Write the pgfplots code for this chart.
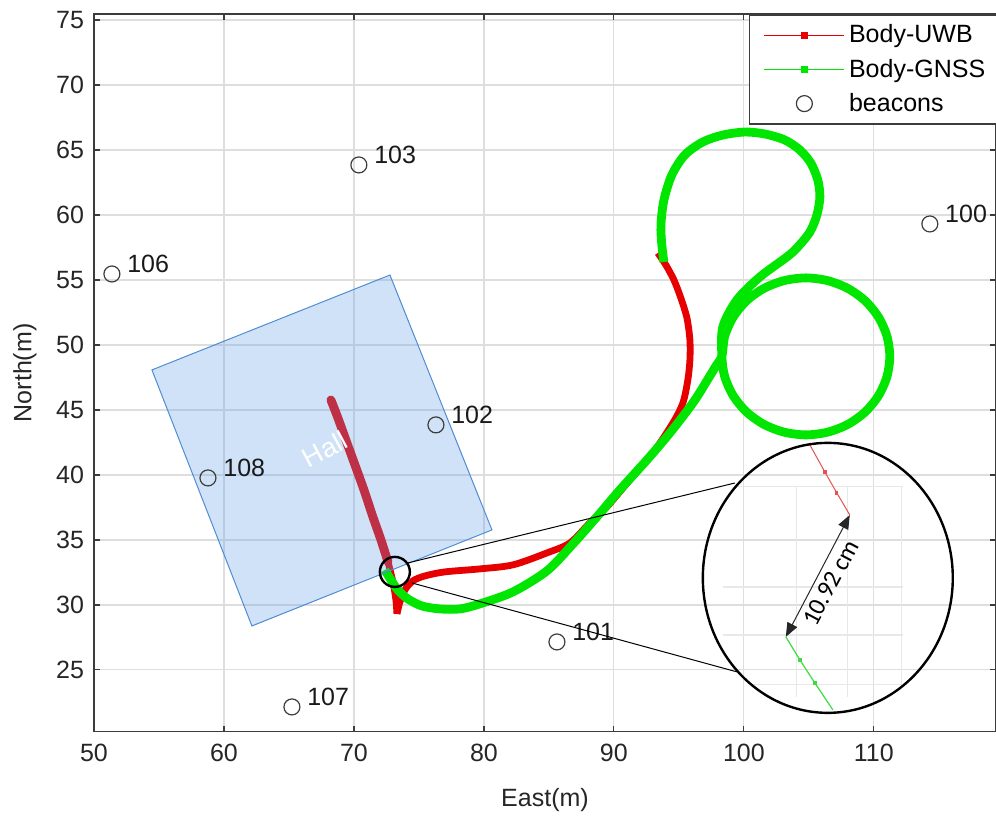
\documentclass[border=0pt]{standalone}
\usepackage{fontspec}
\setmainfont{Liberation Sans}
\newfontfamily\calibri{Carlito}
\usepackage{pgfplots}
\pgfplotsset{compat=1.18}
\usetikzlibrary{arrows.meta}
\definecolor{uwb}{RGB}{230,0,0}
\definecolor{gnss}{RGB}{0,230,0}
\definecolor{hallblue}{RGB}{100,160,230}
\definecolor{halledge}{RGB}{80,140,210}
\definecolor{axgray}{RGB}{60,60,60}
\definecolor{gridgray}{RGB}{222,222,222}
\definecolor{insetgrid}{RGB}{232,232,232}
\begin{document}
\begin{tikzpicture}
\begin{axis}[
  x=6.5pt, y=6.5pt,
  xmin=50, xmax=119.4, ymin=20.25, ymax=75.46,
  xtick={50,60,...,110}, ytick={25,30,...,75},
  tick align=inside, tick pos=both, major tick length=3pt,
  grid=major, major grid style={draw=gridgray, line width=0.6pt},
  axis line style={draw=axgray, line width=0.8pt},
  every tick/.style={draw=axgray, line width=0.6pt},
  /pgf/number format/assume math mode=true,
  tick label style={font=\fontsize{12.5}{15}\selectfont, text=black!85},
  yticklabel style={xshift=-1.5pt},
  xticklabel style={yshift=-2.5pt},
  xlabel={East(m)}, ylabel={North(m)},
  label style={font=\fontsize{12.5}{15}\selectfont, text=black!85},
  xlabel style={at={(axis description cs:0.5,-0.0947)}, anchor=center},
  ylabel style={at={(axis description cs:-0.0765,0.5)}, anchor=center},
  legend cell align=left,
  legend image code/.code={\draw[mark repeat=2,mark phase=2,#1] plot coordinates {(0pt,0pt) (20pt,0pt) (40pt,0pt)};},
  legend style={at={(1,1)}, anchor=north east, xshift=4pt, draw=axgray, line width=0.8pt, fill=white,
    font=\fontsize{12.5}{15}\selectfont, inner xsep=7pt, inner ysep=3pt, row sep=2.5pt,
    /tikz/every even column/.append style={column sep=6pt}},
]
\coordinate (bl) at (axis cs:42.77,13.62);
\coordinate (tr) at (axis cs:119.4,76.54);

% Body-UWB trajectory (hall part thicker)
\addplot[forget plot, uwb, line width=4.4pt, line join=round, line cap=round, smooth] coordinates {
(68.23,45.77)(68.77,44.38)(69.38,42.69)(70.08,40.77)(70.77,38.85)(71.46,36.77)(72.08,35.0)(72.62,33.31)};
\addplot[forget plot, uwb, line width=3.4pt, line join=round, smooth] coordinates {
(72.08,35.0)(72.62,33.31)(73.0,31.77)(73.23,30.38)(73.31,29.31)};
\addplot[forget plot, uwb, line width=3.4pt, line join=round, smooth] coordinates {
(73.31,29.31)(73.54,30.23)(73.92,31.15)(74.54,31.85)
(75.46,32.23)(77.0,32.54)(79.69,32.77)(82.23,33.08)(84.85,34.0)(86.62,34.77)(88.15,36.31)(89.46,37.54)
(91.23,39.62)(93.0,41.69)(94.54,44.0)(95.31,45.54)(95.69,47.31)(95.85,48.85)(95.85,50.38)(95.62,52.08)
(95.15,53.62)(94.62,55.0)(94.0,56.15)(93.38,57.08)};

% Body-GNSS trajectory
\addplot[forget plot, gnss, line width=4.4pt, line join=round, smooth] coordinates {
(72.38,32.69)(72.85,31.92)(73.38,31.15)(74.15,30.46)(75.23,29.92)(76.62,29.69)(78.15,29.69)(79.69,30.08)
(82.23,31.0)(84.85,32.62)(86.85,34.69)(88.69,36.77)(90.46,38.85)(92.54,41.15)(94.31,43.23)(96.08,45.54)
(97.15,47.23)(97.85,48.38)(98.31,49.15)
(98.53,50.68)(99.18,52.14)(100.20,53.39)(101.54,54.35)(103.10,54.95)(104.77,55.16)(106.44,54.95)(108.0,54.35)
(109.34,53.39)(110.36,52.14)(111.01,50.68)(111.23,49.12)(111.01,47.56)(110.36,46.10)(109.34,44.85)(108.0,43.89)
(106.44,43.29)(104.77,43.08)(103.10,43.29)(101.54,43.89)(100.20,44.85)(99.18,46.10)(98.53,47.56)(98.31,49.12)
(98.38,51.38)(99.46,53.46)(101.23,55.23)(103.31,56.77)(104.08,57.46)(105.08,58.69)(105.62,60.0)(105.85,61.38)
(105.69,62.69)(105.15,64.0)(104.31,65.0)(103.15,65.77)(101.62,66.23)(100.08,66.38)(98.38,66.15)(96.85,65.62)
(95.46,64.62)(94.46,63.08)(93.85,61.15)(93.62,59.23)(93.69,57.69)(93.85,56.38)};

% Hall
\addplot[forget plot, fill=hallblue, fill opacity=0.3, draw=halledge, line width=0.5pt] coordinates {
(54.46,48.08)(72.77,55.38)(80.62,35.77)(62.15,28.38)} -- cycle;
\node[rotate=28, text=white, font=\fontsize{13.5}{15}\selectfont] at (axis cs:67.77,42.0) {Hall};

% beacons
\addplot[forget plot, only marks, mark=o, mark size=4pt, mark options={draw=axgray, line width=0.6pt}] coordinates {
(114.31,59.31)(70.38,63.85)(51.38,55.46)(76.31,43.85)(58.77,39.77)(85.62,27.15)(65.23,22.15)};
\begin{scope}[every node/.style={anchor=west, inner sep=0pt, xshift=7.5pt, yshift=5pt, font=\fontsize{12.5}{15}\selectfont, text=black!90}]
\node at (axis cs:114.31,59.31) {100};
\node at (axis cs:70.38,63.85) {103};
\node at (axis cs:51.38,55.46) {106};
\node at (axis cs:76.31,43.85) {102};
\node at (axis cs:58.77,39.77) {108};
\node at (axis cs:85.62,27.15) {101};
\node at (axis cs:65.23,22.15) {107};
\end{scope}

% magnifier
\draw[black, line width=1.2pt] (axis cs:73.15,32.54) circle [radius=7.5pt];
\draw[black, line width=0.5pt] (axis cs:74.15,33.23) -- (axis cs:99.31,39.38);
\draw[black, line width=0.5pt] (axis cs:74.46,31.69) -- (axis cs:99.46,24.85);
\begin{scope}
\clip (axis cs:106.46,32.08) ellipse [x radius=62.5pt, y radius=67.5pt];
\draw[insetgrid, line width=0.6pt] (axis cs:104.08,39.08) -- (axis cs:104.08,22.92);
\draw[insetgrid, line width=0.6pt] (axis cs:108.0,39.08) -- (axis cs:108.0,22.92);
\draw[insetgrid, line width=0.6pt] (axis cs:112.15,39.08) -- (axis cs:112.15,22.92);
\draw[insetgrid, line width=0.6pt] (axis cs:98.38,39.08) -- (axis cs:112.23,39.08);
\draw[insetgrid, line width=0.6pt] (axis cs:98.38,31.38) -- (axis cs:112.23,31.38);
\draw[insetgrid, line width=0.6pt] (axis cs:98.38,27.69) -- (axis cs:112.23,27.69);
\draw[insetgrid, line width=0.6pt] (axis cs:98.38,23.85) -- (axis cs:112.23,23.85);
\end{scope}
\addplot[forget plot, color={rgb,255:red,230;green,80;blue,80}, line width=0.5pt, mark=square*, mark size=0.6pt, mark indices={2,3}] coordinates {
(105.08,42.31)(106.23,40.23)(107.15,38.62)(108.15,36.92)};
\addplot[forget plot, color={rgb,255:red,60;green,220;blue,60}, line width=0.6pt, mark=square*, mark size=0.6pt, mark indices={2,3}] coordinates {
(103.23,27.54)(104.31,25.77)(105.46,24.0)(106.85,21.92)};
\draw[black, line width=1.2pt] (axis cs:106.46,32.08) ellipse [x radius=62.5pt, y radius=67.5pt];
\draw[{Triangle[length=7pt,width=5.5pt]}-{Triangle[length=7pt,width=5.5pt]}, line width=0.5pt, black!85] (axis cs:108.15,36.92) -- (axis cs:103.23,27.54);
\node[rotate=62, inner sep=0pt, font=\calibri\fontsize{12.5}{15}\selectfont] at (axis cs:106.69,31.69) {10.92 cm};

% legend
\addlegendimage{color=uwb, line width=0.7pt, mark=square*, mark size=1.3pt}
\addlegendentry{Body-UWB}
\addlegendimage{color=gnss, line width=0.7pt, mark=square*, mark size=1.3pt}
\addlegendentry{Body-GNSS}
\addlegendimage{only marks, mark=o, mark size=4pt, draw=axgray, line width=0.6pt}
\addlegendentry{beacons}
\end{axis}
\pgfresetboundingbox
\useasboundingbox (bl) rectangle (tr);
\end{tikzpicture}
\end{document}
